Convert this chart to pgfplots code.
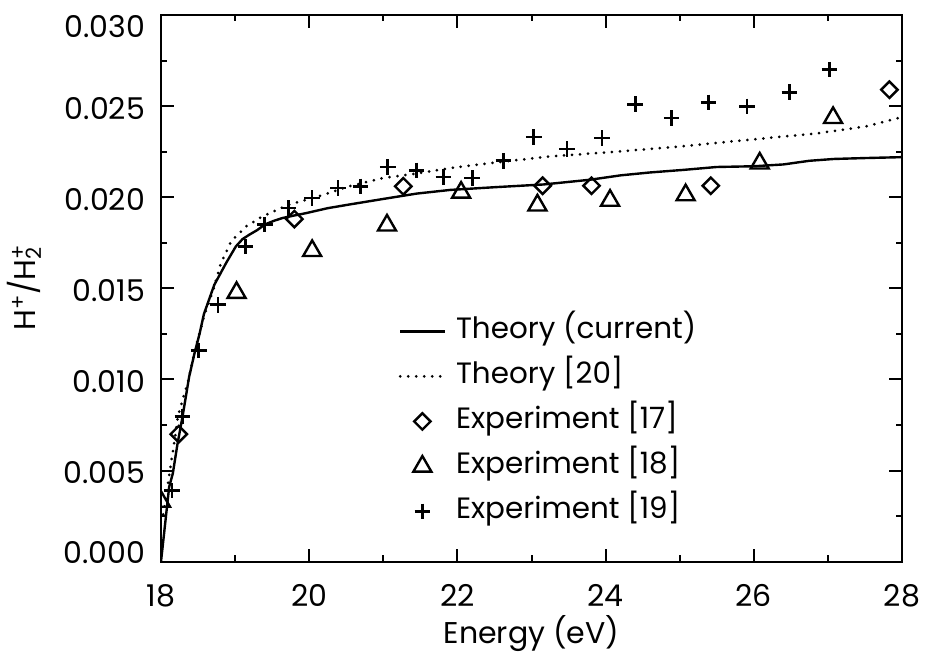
\documentclass[border=0pt]{standalone}
\usepackage{fontspec}
\setmainfont{Poppins}
\usepackage{pgfplots}
\pgfplotsset{compat=1.18}
\begin{document}
\begin{tikzpicture}
\path[use as bounding box] (-80.5pt,-46.15pt) rectangle (382.5pt,280.85pt);
\begin{axis}[
  at={(0pt,0pt)}, anchor=south west,
  scale only axis, width=370.5pt, height=273.35pt,
  xmin=18, xmax=28, ymin=0, ymax=0.030,
  clip marker paths=true,
  axis line style={line width=1pt},
  xtick={18,20,22,24,26,28}, minor xtick={19,21,23,25,27},
  xticklabels={18,20,22,24,26,28},
  ytick={0,0.005,0.010,0.015,0.020,0.025,0.030},
  minor ytick={0.0025,0.0075,0.0125,0.0175,0.0225,0.0275},
  yticklabels={\raisebox{6pt}[\height][\depth]{0.000},0.005,0.010,0.015,0.020,0.025,\raisebox{-4.8pt}[\height][\depth]{0.030}},
  scaled y ticks=false,
  tick align=inside,
  major tick length=6.5pt, minor tick length=3.2pt,
  every tick/.style={line width=1pt, black},
  xticklabel style={anchor=base, yshift=-22.2pt, font=\fontsize{15}{18}\selectfont},
  yticklabel style={anchor=east, inner sep=0pt, xshift=-7.8pt, yshift=-1.2pt, font=\fontsize{15}{18}\selectfont},
  xlabel={Energy (eV)},
  xlabel style={at={(axis description cs:0.5,-0.1505)}, anchor=base, font=\fontsize{15}{18}\selectfont},
  ylabel={H\textsuperscript{+}/H\rlap{\textsuperscript{+}}\textsubscript{2}},
  ylabel style={at={(axis description cs:-0.1687,0.5)}, anchor=base, font=\fontsize{15}{18}\selectfont},
  legend style={draw=none, fill=none, at={(axis description cs:0.3202,0.4494)}, anchor=north west,
    inner sep=0pt, row sep=7.5pt, column sep=5pt, font=\fontsize{14.7}{18}\selectfont,
    nodes={inner sep=0pt, text height=11pt, text depth=4pt}},
  legend cell align=left,
  legend image code/.code={\draw[mark repeat=2,mark phase=2,#1] plot coordinates {(0pt,0pt) (11.1pt,0pt) (22.2pt,0pt)};},
]
% Theory (current)
\addplot[black, line width=1.2pt, line join=round] coordinates {
(18.00,0.0000) (18.11,0.0041) (18.16,0.00485) (18.22,0.0064) (18.29,0.00795) (18.38,0.01015)
(18.45,0.0114) (18.52,0.0125) (18.58,0.0136) (18.65,0.0144) (18.72,0.0152) (18.80,0.0158) (18.88,0.0164)
(19.01,0.0173) (19.10,0.0177) (19.19,0.01794) (19.30,0.0182) (19.40,0.0185) (19.52,0.0187) (19.64,0.01886)
(19.80,0.0190) (19.96,0.01913) (20.25,0.0194) (20.54,0.0196) (20.99,0.0199) (21.45,0.0202) (21.90,0.0204)
(22.50,0.02055) (23.16,0.0207) (23.79,0.02096) (24.20,0.0212) (24.60,0.02136) (25.05,0.0215) (25.50,0.02166)
(26.00,0.0217) (26.40,0.0218) (26.75,0.0220) (27.08,0.0221) (27.50,0.02215) (28.00,0.0222)
};
\addlegendentry{Theory (current)}
% Theory [20]
\addplot[black, line width=1.5pt, line cap=round, dash pattern=on 0pt off 4pt] coordinates {
(18.03,0.0026) (18.08,0.0039) (18.12,0.0050) (18.17,0.0063) (18.23,0.0080) (18.30,0.0090) (18.36,0.0098)
(18.47,0.0118) (18.58,0.01345) (18.72,0.0151) (18.81,0.0164) (18.95,0.0176) (19.15,0.0184) (19.37,0.01895)
(19.73,0.0196) (20.09,0.0200) (20.54,0.0206) (20.99,0.02105) (21.45,0.0213) (21.90,0.0216) (22.50,0.0219)
(23.25,0.02224) (24.15,0.0225) (25.05,0.0228) (25.95,0.02316) (26.85,0.0235) (27.53,0.0239) (28.00,0.0244)
};
\addlegendentry{Theory [20]}
% Experiment [17]
\addplot[only marks, mark=square, mark size=2.9pt, mark options={rotate=45, line width=1.2pt, black}] coordinates {
(18.24,0.0070) (19.80,0.0188) (21.27,0.0206) (23.15,0.02063) (23.81,0.02063) (25.42,0.02063) (27.83,0.0259)
};
\addlegendentry{Experiment [17]}
% Experiment [18]
\addplot[only marks, mark=triangle, mark size=5.2pt, mark options={line width=1.2pt, black}] coordinates {
(18.00,0.0033) (19.02,0.01476) (20.04,0.01706) (21.05,0.01846) (22.05,0.02026) (23.08,0.01956)
(24.06,0.01982) (25.08,0.02012) (26.08,0.02186) (27.07,0.02436)
};
\addlegendentry{Experiment [18]}
% Experiment [19]
\addplot[only marks, mark=+, mark size=3.9pt, mark options={line width=1.3pt, black}] coordinates {
(18.15,0.0039) (18.29,0.00796) (18.51,0.0116) (18.77,0.0141) (19.14,0.0173) (19.40,0.0185) (19.72,0.0194)
(20.04,0.01996) (20.39,0.0205) (20.69,0.0206) (21.06,0.02166) (21.45,0.02147) (21.81,0.0211) (22.20,0.02105)
(22.62,0.0220) (23.03,0.0233) (23.48,0.02265) (23.95,0.02325) (24.40,0.0251) (24.89,0.02435) (25.39,0.0252)
(25.91,0.02499) (26.48,0.02576) (27.02,0.0270)
};
\addlegendentry{Experiment [19]}
\end{axis}
\end{tikzpicture}
\end{document}
